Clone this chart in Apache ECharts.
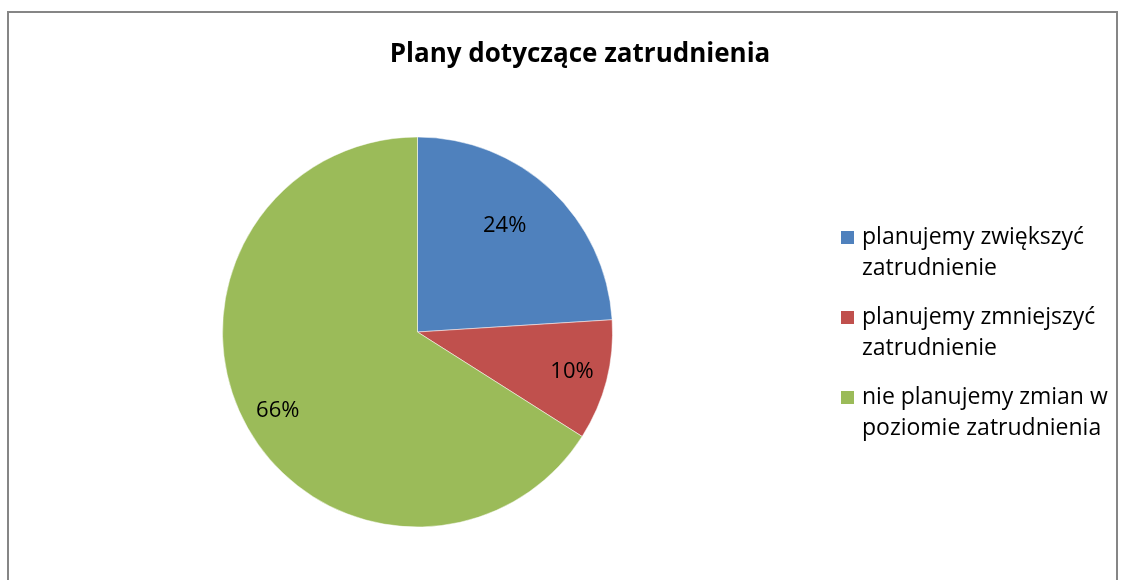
<!DOCTYPE html>
<html>
<head>
<meta charset="utf-8">
<script src="https://cdn.jsdelivr.net/npm/echarts@6/dist/echarts.min.js"></script>
<style>
html,body{margin:0;padding:0;background:#fff;}
#chart{width:1121px;height:580px;}
</style>
</head>
<body>
<div id="chart"></div>
<script>
var titleText = 'Plany dotyczące zatrudnienia';
var categories = ['planujemy zwiększyć zatrudnienie', 'planujemy zmniejszyć zatrudnienie', 'nie planujemy zmian w poziomie zatrudnienia'];
var legendLabels = ['planujemy zwiększyć\nzatrudnienie', 'planujemy zmniejszyć\nzatrudnienie', 'nie planujemy zmian w\npoziomie zatrudnienia'];
var values = [24, 10, 66];
var colors = ['#4F81BD', '#C0504D', '#9BBB59'];
// small nudges so the percent labels sit where Excel put them
var labelOffsets = [[-22, 10], [0, 0], [0, 2]];

var pieData = categories.map(function(c, i){
    return {name: c, value: values[i], itemStyle: {color: colors[i]}};
});
var labelData = categories.map(function(c, i){
    return {name: c, value: values[i], label: {offset: labelOffsets[i]}};
});

var myChart = echarts.init(document.getElementById('chart'));
var option = {
    backgroundColor: '#fff',
    animation: false,
    title: {
        text: titleText,
        left: 575,
        textAlign: 'center',
        top: 37,
        textStyle: {fontFamily: 'Open Sans', fontWeight: 'bold', fontSize: 26, color: '#000'}
    },
    graphic: [{
        type: 'rect',
        shape: {x: 8, y: 12, width: 1109, height: 620},
        style: {fill: 'none', stroke: '#868686', lineWidth: 2},
        silent: true
    }],
    legend: {
        orient: 'vertical',
        left: 839,
        top: 191,
        padding: 0,
        itemGap: -13,
        itemWidth: 15,
        itemHeight: 15,
        icon: 'rect',
        data: categories,
        formatter: function(name){
            return ' \n' + legendLabels[categories.indexOf(name)];
        },
        textStyle: {fontFamily: 'Open Sans', fontSize: 23, color: '#000', lineHeight: 31, padding: [0, 0, 0, 2]}
    },
    series: [{
        type: 'pie',
        center: [417.5, 332],
        radius: [0, 195],
        startAngle: 90,
        clockwise: true,
        silent: true,
        label: {show: false},
        labelLine: {show: false},
        itemStyle: {borderColor: '#fff', borderWidth: 0.5},
        emphasis: {disabled: true},
        data: pieData
    }, {
        type: 'pie',
        center: [417.5, 332],
        radius: [118, 195],
        startAngle: 90,
        clockwise: true,
        silent: true,
        legendHoverLink: false,
        itemStyle: {color: 'rgba(0,0,0,0)'},
        emphasis: {disabled: true},
        label: {
            show: true,
            position: 'inside',
            formatter: '{c}%',
            fontFamily: 'Open Sans',
            fontSize: 22,
            color: '#000'
        },
        labelLine: {show: false},
        data: labelData
    }]
};
myChart.setOption(option);
</script>
</body>
</html>
